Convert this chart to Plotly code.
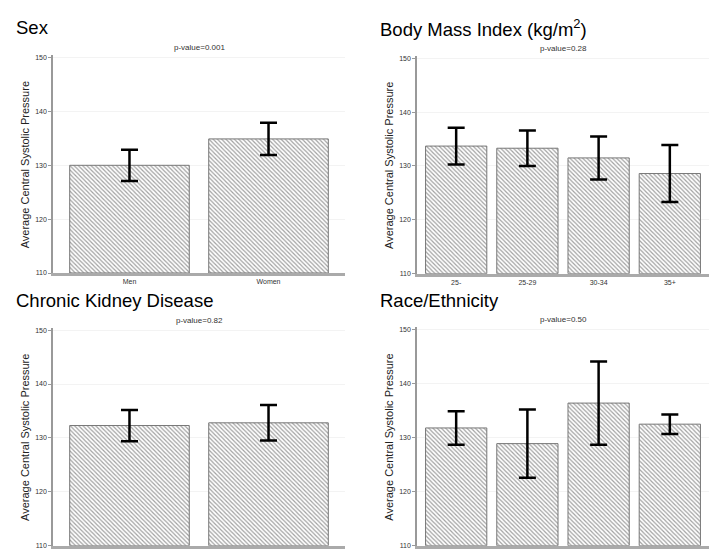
import plotly.graph_objects as go

# ---- data ----
sex_cats = ["Men", "Women"]
sex_means = [130.0, 134.9]
sex_err = [2.9, 3.0]

bmi_cats = ["25-", "25-29", "30-34", "35+"]
bmi_means = [133.7, 133.3, 131.5, 128.6]
bmi_err = [3.4, 3.3, 4.0, 5.3]

ckd_cats = ["No", "Yes"]
ckd_means = [132.3, 132.8]
ckd_err = [2.9, 3.3]

race_cats = ["White", "Black", "Hispanic", "Other"]
race_means = [131.8, 128.9, 136.4, 132.5]
race_err = [3.1, 6.3, 7.7, 1.8]

titles = ["Sex", "Body Mass Index (kg/m<sup>2</sup>)", "Chronic Kidney Disease", "Race/Ethnicity"]
pvalues = ["p-value=0.001", "p-value=0.28", "p-value=0.82", "p-value=0.50"]
y_title = "Average Central Systolic Pressure"
y_ticks = [110, 120, 130, 140, 150]

W, H = 715, 553
FONT = "Liberation Sans, Arial, sans-serif"

panels = [
    dict(cats=sex_cats, means=sex_means, err=sex_err, x0=53, x1=345, y150=57, y110=274, labels=True),
    dict(cats=bmi_cats, means=bmi_means, err=bmi_err, x0=417, x1=709, y150=57.7, y110=274.7, labels=True),
    dict(cats=ckd_cats, means=ckd_means, err=ckd_err, x0=53, x1=345, y150=331.5, y110=548.7, labels=False),
    dict(cats=race_cats, means=race_means, err=race_err, x0=417, x1=709, y150=331, y110=548.7, labels=False),
]
title_pos = [(14, 27), (378, 27), (14, 302), (378, 302)]

fig = go.Figure()
layout = dict(
    width=W, height=H, margin=dict(l=0, r=0, t=0, b=0),
    paper_bgcolor="white", plot_bgcolor="white", showlegend=False,
    bargap=0.14, font=dict(family=FONT, color="#333"),
)
annotations = []
for i, p in enumerate(panels):
    n = i + 1
    xa = "x" if n == 1 else f"x{n}"
    ya = "y" if n == 1 else f"y{n}"
    fig.add_trace(go.Bar(
        x=p["cats"], y=[m - 110 for m in p["means"]], base=110,
        xaxis=xa, yaxis=ya,
        marker=dict(color="white", line=dict(color="#777", width=1),
                    pattern=dict(shape="\\", fgcolor="#444", bgcolor="white", size=3, solidity=0.4)),
        error_y=dict(type="data", array=p["err"], symmetric=True, color="black", thickness=2.5, width=8.5),
        hoverinfo="skip",
    ))
    ncat = len(p["cats"])
    dx = [p["x0"] / W, p["x1"] / W]
    ppu = (p["y110"] - p["y150"]) / 40.0
    ytop_val = 150.4
    dy = [1 - p["y110"] / H, 1 - (p["y110"] - (ytop_val - 110) * ppu) / H]
    layout["xaxis" if n == 1 else f"xaxis{n}"] = dict(
        domain=dx, anchor=ya, range=[-0.55, ncat - 0.45], type="category",
        showline=True, linecolor="#aaa", linewidth=2.5, showgrid=False, ticks="",
        showticklabels=p["labels"], tickfont=dict(size=7, color="#333"), fixedrange=True,
    )
    layout["yaxis" if n == 1 else f"yaxis{n}"] = dict(
        domain=dy, anchor=xa, range=[110, ytop_val], tickvals=y_ticks,
        showline=True, linecolor="#999", linewidth=1.5, ticks="outside", ticklen=3,
        tickcolor="#999", tickwidth=1, showgrid=True, gridcolor="#f3f3f3", zeroline=False,
        tickfont=dict(size=7, color="#333"), fixedrange=True,
    )
    tx, ty = title_pos[i]
    annotations.append(dict(text=titles[i], x=tx / W, y=1 - ty / H, xref="paper", yref="paper",
                            xanchor="left", yanchor="middle", showarrow=False,
                            font=dict(size=18.5, color="black", family=FONT)))
    annotations.append(dict(text=pvalues[i], x=(p["x0"] + p["x1"]) / 2 / W, y=1 - (p["y150"] - 10) / H,
                            xref="paper", yref="paper", xanchor="center", yanchor="middle",
                            showarrow=False, font=dict(size=8, color="#333", family=FONT)))
    annotations.append(dict(text=y_title, x=(p["x0"] - 28) / W, y=1 - (p["y150"] + p["y110"]) / 2 / H,
                            xref="paper", yref="paper", xanchor="center", yanchor="middle",
                            textangle=-90, showarrow=False,
                            font=dict(size=11, color="#222", family=FONT)))
layout["annotations"] = annotations
fig.update_layout(**layout)
fig.write_html("out.html", config={"displayModeBar": False},
               post_script="document.body.style.margin='0';document.body.style.overflow='hidden';")
